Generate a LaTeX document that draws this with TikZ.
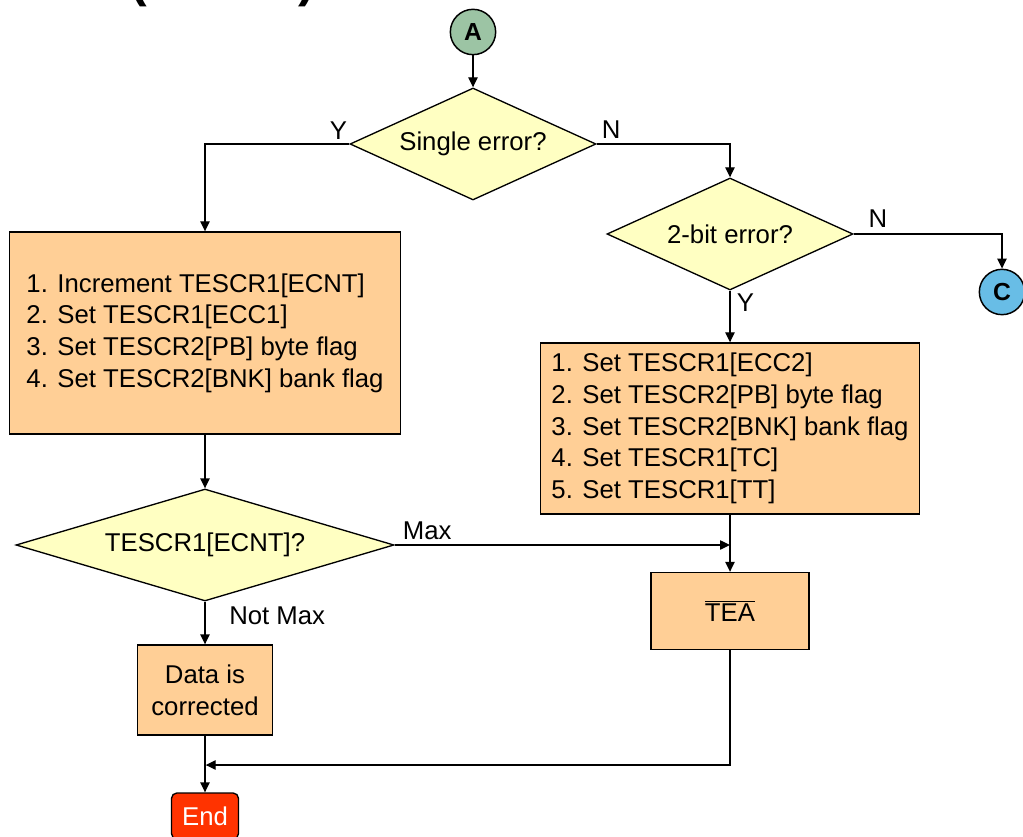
\documentclass[tikz,border=0pt]{standalone}
\usepackage{fontspec}
\setmainfont{Liberation Sans}
\usetikzlibrary{shapes.geometric,arrows.meta}

\definecolor{boxfill}{HTML}{FFCF96}
\definecolor{decfill}{HTML}{FFFFC2}
\definecolor{afill}{HTML}{9CC4A4}
\definecolor{cfill}{HTML}{68BDE6}
\definecolor{endfill}{HTML}{FF3300}

\tikzset{
  every node/.style={font=\fontsize{19.3}{23.8}\selectfont},
  boxnode/.style={draw=black, line width=1pt, fill=boxfill, inner sep=0pt},
  decision/.style={diamond, draw=black, line width=1pt, fill=decfill, inner sep=0pt},
  offpage/.style={circle, draw=black, line width=1.1pt, inner sep=0pt, minimum size=34pt,
    font=\bfseries\fontsize{18.5}{20}\selectfont},
  terminal/.style={draw=black, line width=1pt, fill=endfill, rounded corners=4pt, inner sep=0pt,
    text=white},
  flow/.style={line width=1pt, -{Triangle[length=7.5pt,width=7pt]}},
  lbl/.style={inner sep=0pt},
  titlefont/.style={font=\bfseries\fontsize{37.5}{40}\selectfont, inner sep=0pt, anchor=base},
}

\begin{document}
\begin{tikzpicture}[x=0.75pt,y=-0.75pt]
\useasboundingbox (0,0) rectangle (1023,837);
\clip (0,0) rectangle (1023,837);

% heading, running off the top edge
\node[titlefont] (hl) at (139,-3) {(};
\node[titlefont] (hr) at (307,-3) {)};

% entry connector and first decision
\node[offpage, fill=afill] (A) at (473,32) {A};
\node[decision, minimum width=184.5pt, minimum height=84pt, shape aspect=2.2] (d1) at (473,144) {Single error?};

% double-bit branch
\node[decision, minimum width=184.5pt, minimum height=84pt, shape aspect=2.2] (d2) at (730,234) {2-bit error?};
\node[offpage, fill=cfill] (C) at (1002,292) {C};
\node[boxnode, minimum width=284.25pt, minimum height=128.25pt, align=left] (b2) at (730,428.5)
  {1. Set TESCR1[ECC2]\\2. Set TESCR2[PB] byte flag\\3. Set TESCR2[BNK] bank flag\\4. Set TESCR1[TC]\\5. Set TESCR1[TT]};
\node[boxnode, minimum width=118.5pt, minimum height=57.75pt] (tea) at (730,611) {$\overline{\hbox{TEA}}$};

% single-bit branch
\node[boxnode, minimum width=293pt, minimum height=151.5pt, align=left] (b1) at (205,333)
  {1. Increment TESCR1[ECNT]\\2. Set TESCR1[ECC1]\\3. Set TESCR2[PB] byte flag\\4. Set TESCR2[BNK] bank flag};
\node[decision, minimum width=283.5pt, minimum height=84pt, shape aspect=3.4] (d3) at (205,545) {TESCR1[ECNT]?};
\node[boxnode, minimum width=101.25pt, minimum height=67.5pt, align=center] (b3) at (205,690) {Data is\\corrected};
\node[terminal, minimum width=50.25pt, minimum height=34.5pt] (end) at (205,816) {End};

% junction points
\coordinate (mx) at (b2.south |- d3.east);
\coordinate (jn) at (205,765);

% connectors
\draw[flow] (A) -- (d1);
\draw[flow] (d1.west) -| (b1.north);
\draw[flow] (d1.east) -| (d2.north);
\draw[flow] (d2.east) -| (C.north);
\draw[flow] (d2.south) -- (b2.north);
\draw[flow] (b2.south) -- (tea.north);
\draw[flow] (b1.south) -- (d3.north);
\draw[flow] (d3.east) -- (mx);
\draw[flow] (d3.south) -- (b3.north);
\draw[flow] (b3.south) -- (end.north);
\draw[flow, shorten >=0.5pt] (tea.south) |- (jn);

% branch labels
\node[lbl, anchor=south east] (y1) at ([xshift=-1.5pt, yshift=3.5pt]d1.west) {Y};
\node[lbl, anchor=south west] (n1) at ([xshift=3.75pt, yshift=3.75pt]d1.east) {N};
\node[lbl, anchor=south west] (n2) at ([xshift=11pt, yshift=4.5pt]d2.east) {N};
\node[lbl, anchor=north west] (y2) at ([xshift=5pt, yshift=-2pt]d2.south) {Y};
\node[lbl, anchor=south west] (mxl) at ([xshift=6pt, yshift=4pt]d3.east) {Max};
\node[lbl, anchor=north west] (nml) at ([xshift=18pt, yshift=-4pt]d3.south) {Not Max};
\end{tikzpicture}
\end{document}
